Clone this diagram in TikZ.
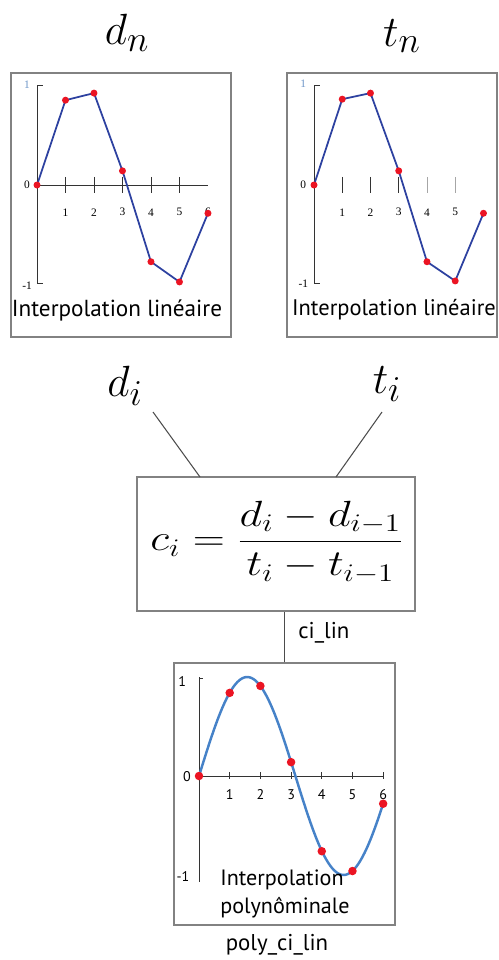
\documentclass[tikz,border=0pt]{standalone}
\usepackage{fontspec}
\usepackage{graphicx}
\newfontfamily\labfont{PT Sans}
\newfontfamily\tickfont{Liberation Serif}
\definecolor{lineblue}{RGB}{45,65,160}
\definecolor{polyblue}{RGB}{70,130,200}
\definecolor{dotred}{RGB}{235,20,35}
\definecolor{boxgray}{RGB}{130,130,130}
\definecolor{tickblue}{RGB}{110,150,200}
\begin{document}
\begin{tikzpicture}[x=0.02cm,y=-0.02cm,
  frame/.style={draw=boxgray, line width=0.7pt, inner sep=0pt},
  conn/.style={draw=black!70, line width=0.6pt},
  caption/.style={font=\labfont\fontsize{13.2}{15}\selectfont, inner sep=0pt},
  smallcap/.style={font=\labfont\fontsize{12.6}{15.5}\selectfont, inner sep=0pt},
  namecap/.style={font=\labfont\fontsize{13}{15}\selectfont, inner sep=0pt},
  ticklab/.style={font=\tickfont\fontsize{6.5}{7}\selectfont, inner sep=0pt},
  polylab/.style={font=\labfont\fontsize{8}{9}\selectfont, inner sep=0pt},
  axis/.style={draw=black!80, line width=0.5pt},
  dot/.style={fill=dotred, draw=none},
  bigmath/.style={inner sep=0pt, font=\fontsize{31}{36}\selectfont},
  midmath/.style={inner sep=0pt, font=\fontsize{28}{32}\selectfont},
  formula/.style={inner sep=0pt, font=\fontsize{21}{25}\selectfont},
]
\useasboundingbox (0,0) rectangle (499,960);

% top labels
\node[bigmath] (dn) at (127,33) {$d_n$};
\node[bigmath] (tn) at (402,36) {$t_n$};

% upper boxes
\node[frame, minimum width=4.4cm, minimum height=5.28cm] (lbox) at (121,205) {};
\node[frame, minimum width=4.2cm, minimum height=5.28cm] (rbox) at (392,205) {};

% left plot
\begin{scope}[shift={(37,185)}, x=0.57cm, y=2.02cm]
  \draw[axis] (0,0) -- (6,0);
  \draw[axis] (0.2,0.99) -- (0,0.99) -- (0,-0.97) -- (0.2,-0.97);
  \foreach \i in {1,...,5} {
    \draw[axis] (\i,0.08) -- (\i,-0.08);
    \node[ticklab] (la\i) at (\i,-0.27) {\i};
  }
  \node[ticklab] (la6) at (6,-0.27) {6};
  \node[ticklab, text=tickblue] (lay1) at (-0.35,0.99) {1};
  \node[ticklab] (lay0) at (-0.35,0) {0};
  \node[ticklab] (laym) at (-0.35,-1) {-1};
  \draw[lineblue, line width=1pt] (0,0) -- (1,0.84) -- (2,0.91) -- (3,0.14) -- (4,-0.76) -- (5,-0.96) -- (6,-0.28);
  \foreach \x/\y in {0/0,1/0.84,2/0.91,3/0.14,4/-0.76,5/-0.96,6/-0.28}
    \fill[dot] (\x,\y) circle (0.07cm);
\end{scope}
\node[caption] (lcap) at (117,310) {Interpolation linéaire};

% right plot
\begin{scope}[shift={(314,185)}, x=0.565cm, y=2.02cm]
  \draw[axis] (0.2,0.99) -- (0,0.99) -- (0,-0.97) -- (0.2,-0.97);
  \foreach \i/\c in {1/black!80,2/black!80,3/black!80,4/black!35,5/black!35} {
    \draw[draw=\c, line width=0.5pt] (\i,0.08) -- (\i,-0.08);
    \node[ticklab] (ra\i) at (\i,-0.27) {\i};
  }
  \node[ticklab, text=tickblue] (ray1) at (-0.38,1.0) {1};
  \node[ticklab] (ray0) at (-0.38,0) {0};
  \node[ticklab] (raym) at (-0.38,-0.98) {-1};
  \draw[lineblue, line width=1pt] (0,0) -- (1,0.85) -- (2,0.91) -- (3,0.14) -- (4,-0.76) -- (5,-0.95) -- (6,-0.28);
  \foreach \x/\y in {0/0,1/0.85,2/0.91,3/0.14,4/-0.76,5/-0.95,6/-0.28}
    \fill[dot] (\x,\y) circle (0.07cm);
\end{scope}
\node[caption, font=\labfont\fontsize{12.8}{15}\selectfont] (rcap) at (394,310) {Interpolation linéaire};

% middle labels
\node[midmath] (di) at (125,386) {$d_i$};
\node[midmath] (ti) at (387,384) {$t_i$};

% formula box
\node[frame, minimum width=5.56cm, minimum height=2.68cm] (fbox) at (276,544) {};
\node[formula] (form) at (277,542) {\scalebox{1.22}[1]{$\displaystyle c_i = \frac{d_i - d_{i-1}}{t_i - t_{i-1}}$}};

\coordinate (dlt) at (153,412);
\coordinate (dlb) at (200,477);
\coordinate (tlt) at (382,412);
\coordinate (tlb) at (336,477);
\draw[conn] (dlt) -- (dlb);
\draw[conn] (tlt) -- (tlb);

% poly box
\node[frame, minimum width=4.42cm, minimum height=5.24cm] (pbox) at (284.5,794) {};
\draw[conn] (pbox.north) -- (pbox.north |- fbox.south);
\node[namecap, anchor=west] (cilin) at (298,633) {ci\_lin};

\begin{scope}[shift={(199,776)}, x=0.614cm, y=1.98cm]
  \draw[axis] (0,0) -- (6,0);
  \draw[axis] (0,1.0) -- (0,-1.07);
  \draw[axis] (0,0.99) -- (0.13,0.99);
  \foreach \i in {1,...,6} {
    \draw[axis] (\i,0.04) -- (\i,-0.03);
    \node[polylab] (pa\i) at (\i,-0.19) {\i};
  }
  \node[polylab] (pay1) at (-0.55,0.95) {1};
  \node[polylab] (pay0) at (-0.39,-0.01) {0};
  \node[polylab] (paym) at (-0.52,-1.02) {-1};
  \draw[polyblue, line width=1.4pt, domain=0:6, samples=120, smooth] plot (\x, {sin(\x r)});
  \foreach \x/\y in {0/0,1/0.84,2/0.91,3/0.14,4/-0.76,5/-0.96,6/-0.28}
    \fill[dot] (\x,\y) circle (0.085cm);
\end{scope}
\node[smallcap, anchor=west, align=left] (pcap) at (220,894) {Interpolation\\polynôminale};
\node[namecap] (pname) at (277,945) {poly\_ci\_lin};
\end{tikzpicture}
\end{document}
